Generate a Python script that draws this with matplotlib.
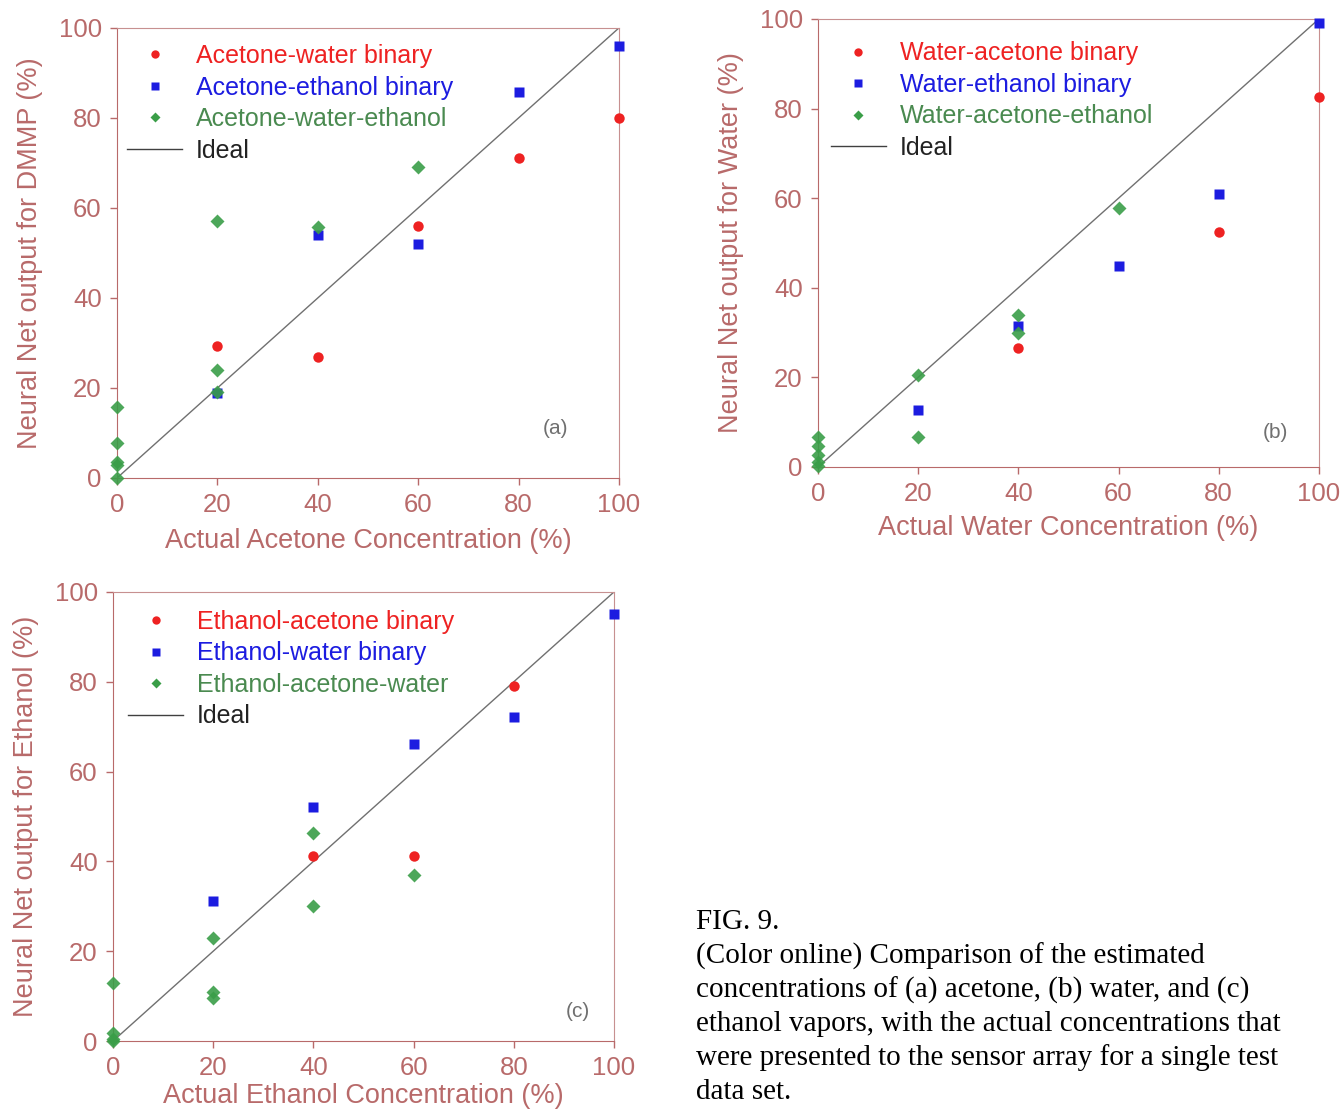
import matplotlib.pyplot as plt
from matplotlib.lines import Line2D

plt.rcParams["font.family"] = ["Liberation Sans", "DejaVu Sans"]

RED = "#ee2222"
BLUE = "#1c1ce0"
GREEN = "#3a9e48"
AXIS_COLOR = "#b86a6a"
SPINE_COLOR = "#c79090"

# panel (a): acetone
a_red_x = [20, 40, 60, 80, 100]
a_red_y = [29.3, 26.9, 56, 71, 80]
a_blue_x = [20, 40, 60, 80, 100]
a_blue_y = [18.9, 54, 52, 85.8, 96]
a_green_x = [0, 0, 0, 0, 0, 20, 20, 20, 40, 60]
a_green_y = [15.8, 7.8, 3.6, 2.9, 0, 57, 24, 19, 55.8, 69]
a_labels = ["Acetone-water binary", "Acetone-ethanol binary", "Acetone-water-ethanol", "Ideal"]

# panel (b): water
b_red_x = [40, 80, 100]
b_red_y = [26.6, 52.5, 82.6]
b_blue_x = [20, 40, 60, 80, 100]
b_blue_y = [12.7, 31.5, 44.9, 61, 99.1]
b_green_x = [0, 0, 0, 0, 0, 20, 20, 40, 40, 60]
b_green_y = [6.7, 4.7, 2.7, 1.1, 0.2, 20.5, 6.8, 33.9, 29.9, 57.8]
b_labels = ["Water-acetone binary", "Water-ethanol binary", "Water-acetone-ethanol", "Ideal"]

# panel (c): ethanol
c_red_x = [40, 60, 80]
c_red_y = [41.2, 41.2, 79.1]
c_blue_x = [20, 40, 60, 80, 100]
c_blue_y = [31.2, 52.1, 66.1, 72.2, 95.1]
c_green_x = [0, 0, 0, 0, 20, 20, 20, 40, 40, 60]
c_green_y = [12.9, 1.8, 0.5, 0, 22.9, 10.9, 9.6, 46.3, 30, 37]
c_labels = ["Ethanol-acetone binary", "Ethanol-water binary", "Ethanol-acetone-water", "Ideal"]

ideal = [0, 100]
ticks = [0, 20, 40, 60, 80, 100]

caption_lines = [
    "FIG. 9.",
    "(Color online) Comparison of the estimated",
    "concentrations of (a) acetone, (b) water, and (c)",
    "ethanol vapors, with the actual concentrations that",
    "were presented to the sensor array for a single test",
    "data set.",
]


def draw_panel(ax, rx, ry, bx, by, gx, gy, labels, xlabel, ylabel, tag, tag_xy,
               xlabelpad, legend_xy):
    ax.plot(ideal, ideal, color="#707070", lw=1.0, zorder=1)
    ax.plot(rx, ry, "o", color=RED, ms=7.5, mec="none", zorder=3, clip_on=False)
    ax.plot(bx, by, "s", color=BLUE, ms=7.5, mec="none", zorder=3, clip_on=False)
    ax.plot(gx, gy, "D", color=GREEN, ms=7, mec="none", zorder=3, alpha=0.9, clip_on=False)

    ax.set_xlim(0, 100)
    ax.set_ylim(0, 100)
    ax.set_xticks(ticks)
    ax.set_yticks(ticks)
    ax.tick_params(colors=AXIS_COLOR, labelsize=18.5, length=5, width=1, pad=6)
    for side in ["left", "bottom"]:
        ax.spines[side].set_color(AXIS_COLOR)
    for side in ["top", "right"]:
        ax.spines[side].set_color(SPINE_COLOR)
    ax.set_xlabel(xlabel, color=AXIS_COLOR, fontsize=19.5, labelpad=xlabelpad)
    ax.set_ylabel(ylabel, color=AXIS_COLOR, fontsize=19.5, labelpad=11.5)
    ax.text(tag_xy[0], tag_xy[1], tag, color="#707070", fontsize=15, ha="center", va="center")

    handles = [
        Line2D([], [], ls="none", marker="o", color=RED, ms=6, mec="none"),
        Line2D([], [], ls="none", marker="s", color=BLUE, ms=6, mec="none"),
        Line2D([], [], ls="none", marker="D", color=GREEN, ms=5.5, mec="none"),
        Line2D([], [], color="#404040", lw=1.0),
    ]
    ax.legend(handles, labels, loc="upper left", bbox_to_anchor=legend_xy,
              borderpad=0, borderaxespad=0,
              frameon=False, fontsize=18, handlelength=2.2, handletextpad=0.55,
              labelspacing=0.3, labelcolor=[RED, BLUE, "#4a8a50", "#222222"])


fig = plt.figure(figsize=(13.42, 11.09), dpi=100)

ax_a = fig.add_axes([0.0872, 0.5690, 0.374, 0.4058])
draw_panel(ax_a, a_red_x, a_red_y, a_blue_x, a_blue_y, a_green_x, a_green_y, a_labels,
           "Actual Acetone Concentration (%)", "Neural Net output for DMMP (%)", "(a)",
           (87.3, 11.1), 8, (0.02, 0.964))

ax_b = fig.add_axes([0.6095, 0.5789, 0.3733, 0.404])
draw_panel(ax_b, b_red_x, b_red_y, b_blue_x, b_blue_y, b_green_x, b_green_y, b_labels,
           "Actual Water Concentration (%)", "Neural Net output for Water (%)", "(b)",
           (91.4, 7.6), 6, (0.026, 0.95))

ax_c = fig.add_axes([0.0842, 0.0613, 0.3733, 0.4049])
draw_panel(ax_c, c_red_x, c_red_y, c_blue_x, c_blue_y, c_green_x, c_green_y, c_labels,
           "Actual Ethanol Concentration (%)", "Neural Net output for Ethanol (%)", "(c)",
           (92.8, 6.5), 2, (0.03, 0.96))

for i, line in enumerate(caption_lines):
    fig.text(0.519, 1 - (922 + 34 * i) / 1109, line, family="Liberation Serif",
             fontsize=21, color="black", ha="left", va="center")

fig.savefig("out.png", dpi=100)
